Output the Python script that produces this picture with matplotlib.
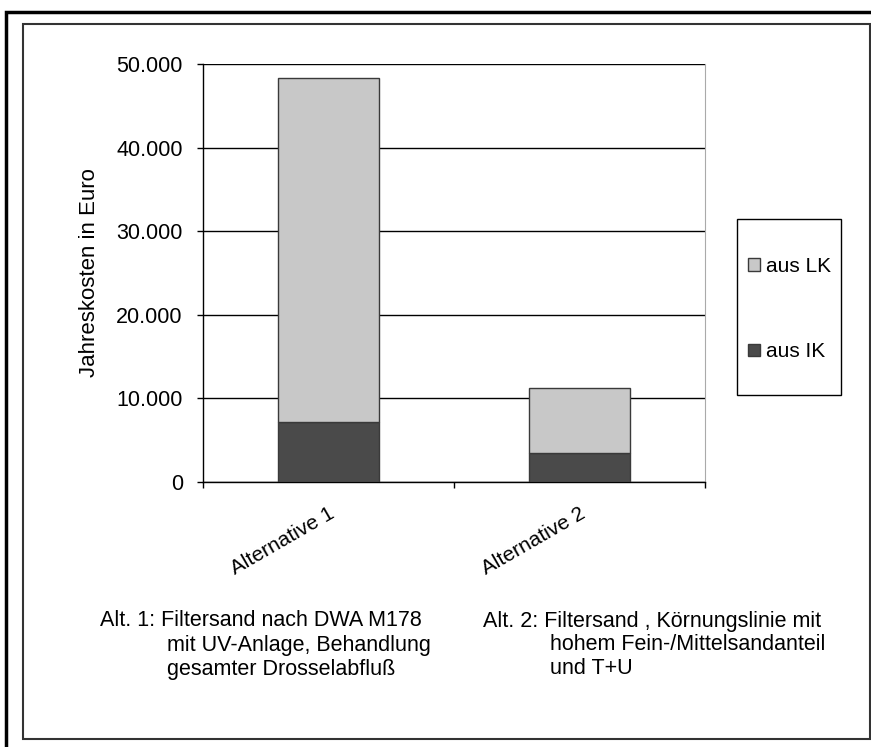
import matplotlib
matplotlib.use("Agg")
import matplotlib.pyplot as plt
from matplotlib.patches import Rectangle
from matplotlib.ticker import FuncFormatter, FixedLocator

plt.rcParams['font.family'] = ['Liberation Sans', 'DejaVu Sans']

# Daten
kategorien = ['Alternative 1', 'Alternative 2']
aus_ik = [7200, 3500]
aus_lk = [41100, 7700]
y_ticks = [0, 10000, 20000, 30000, 40000, 50000]

text_alt1 = ['Alt. 1: Filtersand nach DWA M178',
             'mit UV-Anlage, Behandlung',
             'gesamter Drosselabfluß']
text_alt2 = ['Alt. 2: Filtersand , Körnungslinie mit',
             'hohem Fein-/Mittelsandanteil',
             'und T+U']

W, H = 871, 747
fig = plt.figure(figsize=(W / 100, H / 100), dpi=100)

def px(x, y):
    # pixel (von oben links) -> figure fraction
    return x / W, 1 - y / H

# Rahmen aussen und innen
fig.patches.append(Rectangle(px(6, 900), 1000 / W, (900 - 12) / H, transform=fig.transFigure,
                             fill=False, edgecolor='black', linewidth=2.5))
fig.patches.append(Rectangle(px(23, 739), (870 - 23) / W, (739 - 24) / H, transform=fig.transFigure,
                             fill=False, edgecolor='#333333', linewidth=1.5))

# Diagrammbereich
l, b = px(203, 482)
ax = fig.add_axes([l, b, (705 - 203) / W, (482 - 64) / H])

x = list(range(len(kategorien)))
ax.bar(x, aus_ik, width=0.4, color='#4a4a4a', edgecolor='#3a3a3a', linewidth=1, label='aus IK', zorder=3)
ax.bar(x, aus_lk, width=0.4, bottom=aus_ik, color='#c8c8c8', edgecolor='#3a3a3a', linewidth=1,
       label='aus LK', zorder=3)

ax.set_xlim(-0.5, 1.5)
ax.set_ylim(0, 50000)
ax.set_yticks(y_ticks)
ax.yaxis.set_major_formatter(FuncFormatter(lambda v, p: f"{int(v):,}".replace(',', '.')))
ax.grid(axis='y', color='black', linewidth=1, zorder=1)

ax.set_xticks(x)
ax.set_xticklabels(kategorien, rotation=30, ha='right', rotation_mode='anchor', fontsize=15)
ax.xaxis.set_minor_locator(FixedLocator([-0.5, 0.5, 1.5]))
ax.tick_params(axis='x', which='major', length=0, pad=16)
ax.tick_params(axis='x', which='minor', length=4.5, width=1, direction='out')
ax.tick_params(axis='y', length=4.5, width=1, direction='out', labelsize=15.5, pad=10)

ax.spines['top'].set_visible(False)
ax.spines['right'].set_color('#aaaaaa')
ax.spines['left'].set_linewidth(1)
ax.spines['bottom'].set_linewidth(1)

ax.set_ylabel('Jahreskosten in Euro', fontsize=16, labelpad=12)

# Legende: Kasten extra, Einträge ohne Rahmen
fig.patches.append(Rectangle(px(737, 395), (841 - 737) / W, (395 - 219) / H, transform=fig.transFigure,
                             fill=False, edgecolor='black', linewidth=1))
handles, labels = ax.get_legend_handles_labels()
leg = fig.legend(handles[::-1], labels[::-1], loc='center left',
                 bbox_to_anchor=px(744, 309), fontsize=15, frameon=False,
                 labelspacing=3.2, borderpad=0.2, handlelength=0.55,
                 handleheight=0.55, handletextpad=0.3, borderaxespad=0)

# Erläuterungstexte
for i, t in enumerate(text_alt1):
    xx = 100 if i == 0 else 167
    fig.text(*px(xx, 621 + 24 * i), t, fontsize=15.5, va='center', ha='left')
for i, t in enumerate(text_alt2):
    xx = 483 if i == 0 else 550
    fig.text(*px(xx, 621 + 24 * i), t, fontsize=15.5, va='center', ha='left')

fig.savefig('out.png', dpi=100)
